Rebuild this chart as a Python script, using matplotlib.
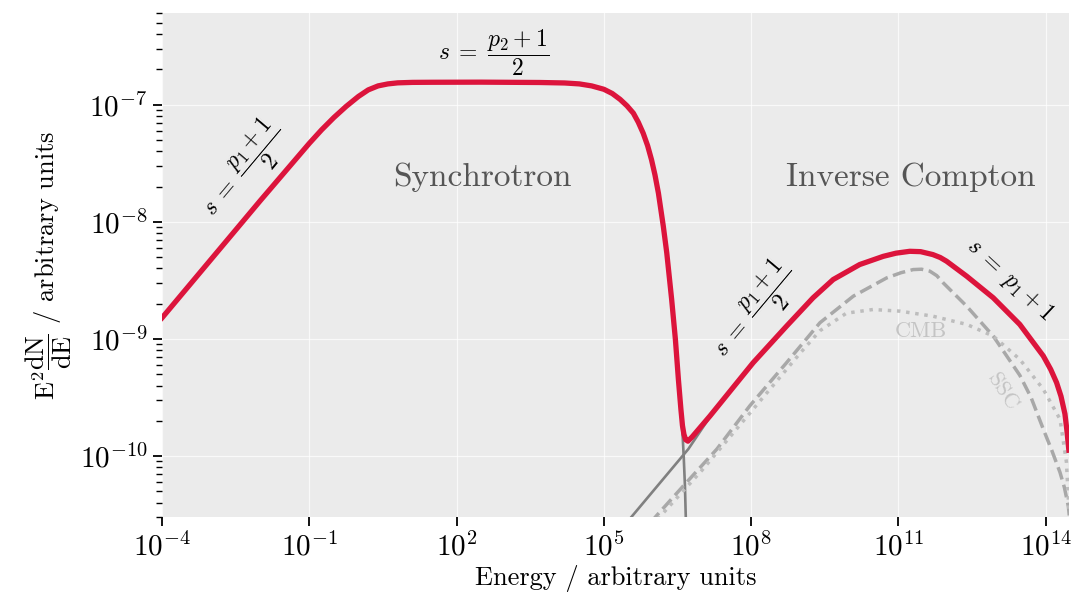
import numpy as np
import matplotlib
matplotlib.use('Agg')
import matplotlib.pyplot as plt
from matplotlib.ticker import NullLocator

plt.rcParams['font.family'] = 'serif'
plt.rcParams['font.serif'] = ['cmr10']
plt.rcParams['mathtext.fontset'] = 'cm'
plt.rcParams['axes.formatter.use_mathtext'] = True

# all values are log10(E) and log10(E^2 dN/dE)
TOTAL_LOGE = [-4.0, -3.0, -2.0, -1.5, -1.0, -0.75, -0.5, -0.25, 0.0, 0.2,
              0.4, 0.6, 0.8, 1.1, 1.5, 2.5, 3.7, 4.2, 4.5, 4.75, 5.0, 5.17,
              5.33, 5.47, 5.6, 5.7, 5.8, 5.89, 5.97, 6.04, 6.11, 6.21, 6.28,
              6.38, 6.456, 6.517, 6.568, 6.60, 6.63, 6.665, 6.711, 6.8, 7.16,
              8.04, 8.72, 9.26, 9.67, 10.21, 10.69, 10.95, 11.23, 11.45, 11.7,
              11.85, 11.98, 12.39, 12.93, 13.47, 13.95, 14.1, 14.22, 14.31,
              14.39, 14.43, 14.47]
TOTAL_LOGF = [-8.82, -8.32, -7.82, -7.575, -7.33, -7.215, -7.11, -7.015,
              -6.93, -6.874, -6.84, -6.823, -6.814, -6.810, -6.809, -6.808,
              -6.811, -6.815, -6.823, -6.84, -6.869, -6.905, -6.955, -7.01,
              -7.073, -7.15, -7.244, -7.35, -7.471, -7.6, -7.755, -8.039,
              -8.265, -8.664, -9.004, -9.345, -9.60, -9.74, -9.815, -9.86,
              -9.873, -9.835, -9.658, -9.203, -8.891, -8.649, -8.493, -8.365,
              -8.295, -8.268, -8.252, -8.255, -8.28, -8.305, -8.337, -8.465,
              -8.649, -8.876, -9.146, -9.26, -9.373, -9.49, -9.64, -9.78,
              -9.95]

SYNC_LOGE = [-4.0, -3.0, -2.0, -1.5, -1.0, -0.75, -0.5, -0.25, 0.0, 0.2,
             0.4, 0.6, 0.8, 1.1, 1.5, 2.5, 3.7, 4.2, 4.5, 4.75, 5.0, 5.17,
             5.33, 5.47, 5.6, 5.7, 5.8, 5.89, 5.97, 6.04, 6.11, 6.21, 6.28,
             6.38, 6.456, 6.517, 6.568, 6.60, 6.625, 6.65, 6.67]
SYNC_LOGF = [-8.82, -8.32, -7.82, -7.575, -7.33, -7.215, -7.11, -7.015,
             -6.93, -6.874, -6.84, -6.823, -6.814, -6.810, -6.809, -6.808,
             -6.811, -6.815, -6.823, -6.84, -6.869, -6.905, -6.955, -7.01,
             -7.073, -7.15, -7.244, -7.35, -7.471, -7.6, -7.755, -8.039,
             -8.265, -8.664, -9.02, -9.37, -9.63, -9.80, -10.0, -10.25,
             -10.56]

IC_LOGE = [5.5, 6.0, 6.58, 6.72, 7.16, 8.04, 8.72, 9.26, 9.67, 10.21, 10.69,
           10.95, 11.23, 11.45, 11.7, 11.85, 11.98, 12.39, 12.93, 13.47,
           13.95, 14.1, 14.22, 14.31, 14.39, 14.43, 14.47]
IC_LOGF = [-10.55, -10.30, -10.01, -9.94, -9.665, -9.203, -8.891, -8.649,
           -8.493, -8.365, -8.295, -8.268, -8.252, -8.255, -8.28, -8.305,
           -8.337, -8.465, -8.649, -8.876, -9.146, -9.26, -9.373, -9.49,
           -9.64, -9.78, -9.95]

SSC_LOGE = [5.95, 6.07, 6.62, 7.3, 7.97, 8.72, 9.4, 10.08, 10.76, 11.05, 11.3,
            11.47, 11.64, 11.78, 11.91, 12.39, 12.93, 13.47, 13.7, 13.95,
            14.13, 14.29, 14.38, 14.46, 14.5]
SSC_LOGF = [-10.57, -10.51, -10.254, -9.941, -9.572, -9.203, -8.862, -8.635,
            -8.479, -8.435, -8.408, -8.405, -8.422, -8.46, -8.521, -8.721,
            -8.976, -9.31, -9.50, -9.771, -9.96, -10.14, -10.27, -10.43,
            -10.6]

CMB_LOGE = [5.98, 6.07, 7.0, 8.0, 8.6, 9.0, 9.4, 9.94, 10.48, 11.03, 11.7,
            12.39, 12.93, 13.47, 13.95, 14.29, 14.42, 14.47]
CMB_LOGF = [-10.6, -10.55, -10.12, -9.62, -9.32, -9.12, -8.93, -8.78, -8.749,
            -8.763, -8.806, -8.876, -8.976, -9.174, -9.43, -9.686, -10.05,
            -10.45]

X_TICKS = [1e-4, 1e-1, 1e2, 1e5, 1e8, 1e11, 1e14]


def to_lin(values):
    return 10 ** np.asarray(values)


fig = plt.figure(figsize=(10.71, 5.97), dpi=100)
ax = fig.add_axes([0.1513, 0.1335, 0.8467, 0.8439])
ax.set_facecolor('#ebebeb')
for spine in ax.spines.values():
    spine.set_visible(False)

ax.set_xscale('log')
ax.set_yscale('log')

# components underneath, total on top
ax.plot(to_lin(SYNC_LOGE), to_lin(SYNC_LOGF), color='#808080', lw=1.9, zorder=2)
ax.plot(to_lin(IC_LOGE), to_lin(IC_LOGF), color='#808080', lw=1.9, zorder=2)
ax.plot(to_lin(SSC_LOGE), to_lin(SSC_LOGF), color='#a8a8a8', lw=2.5,
        ls='--', zorder=3)
ax.plot(to_lin(CMB_LOGE), to_lin(CMB_LOGF), color='#bdbdbd', lw=2.5,
        ls=':', zorder=3)
ax.plot(to_lin(TOTAL_LOGE), to_lin(TOTAL_LOGF), color='#dc143c', lw=3.8,
        zorder=5, solid_joinstyle='round')

ax.set_xlim(1e-4, 10 ** 14.47)
ax.set_ylim(3e-11, 6e-7)
ax.set_xticks(X_TICKS)
ax.xaxis.set_minor_locator(NullLocator())

ax.grid(True, which='major', color='white', lw=0.9, alpha=0.7)
ax.set_axisbelow(True)
ax.tick_params(which='major', length=6.5, width=1.3, labelsize=21,
               color='black', pad=4)
ax.tick_params(which='minor', length=4, width=1.0, color='black')

ax.set_xlabel('Energy / arbitrary units', fontsize=19, labelpad=3)
ax.set_ylabel(r'$\mathrm{E}^2\dfrac{\mathrm{dN}}{\mathrm{dE}}$ / arbitrary units',
              fontsize=19, labelpad=4)

# annotations
txt = dict(ha='center', va='center', rotation_mode='anchor')
ax.text(10 ** 2.52, 10 ** -7.62, 'Synchrotron', fontsize=24,
        color='#555555', **txt)
ax.text(10 ** 11.25, 10 ** -7.62, 'Inverse Compton', fontsize=24,
        color='#555555', **txt)
ax.text(10 ** 2.76, 10 ** -6.56, r'$s\;=\;\dfrac{p_2 + 1}{2}$', fontsize=17,
        color='black', **txt)
ax.text(10 ** -2.35, 10 ** -7.557, r'$s\;=\;\dfrac{p_1 + 1}{2}$', fontsize=17,
        color='black', rotation=50, **txt)
ax.text(10 ** 8.075, 10 ** -8.767, r'$s\;=\;\dfrac{p_1 + 1}{2}$', fontsize=17,
        color='black', rotation=50, **txt)
ax.text(10 ** 13.27, 10 ** -8.494, r'$s\;=\;p_1 + 1$', fontsize=17,
        color='black', rotation=-43, **txt)
ax.text(10 ** 11.455, 10 ** -8.937, 'CMB', fontsize=16, color='#c4c4c4', **txt)
ax.text(10 ** 13.12, 10 ** -9.456, 'SSC', fontsize=16, color='#c4c4c4',
        rotation=-57, **txt)

fig.savefig('out.png', dpi=100)
